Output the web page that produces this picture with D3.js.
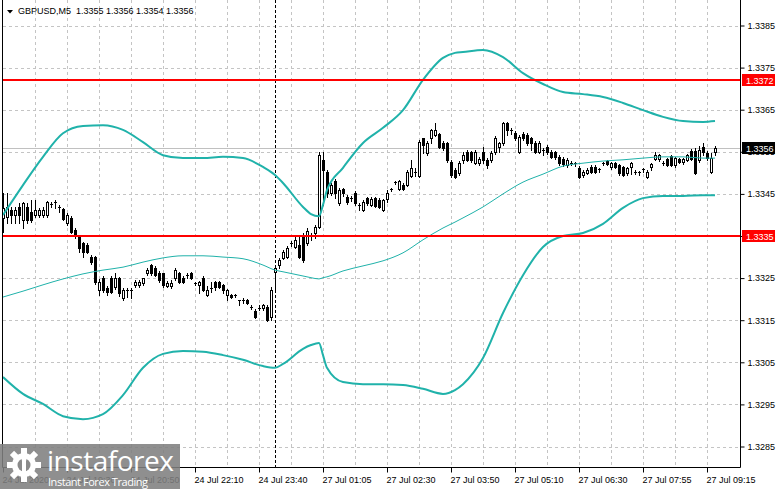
<!DOCTYPE html>
<html>
<head>
<meta charset="utf-8">
<script src="https://cdn.jsdelivr.net/npm/d3@7"></script>
<style>
html, body { margin: 0; padding: 0; background: #fff; overflow: hidden; }
svg { display: block; font-family: "Liberation Sans", Arial, sans-serif; }
</style>
</head>
<body>
<svg id="chart" width="781" height="489"></svg>
<script>
// GBPUSD M5 candles, one value per bar (bar 0 = leftmost)
const barOpen = [
  1.33393,1.33395,1.33412,1.33400,1.33419,1.33388,1.33419,1.33407,1.33400,1.33400,
  1.33400,1.33400,1.33426,1.33431,1.33419,1.33414,1.33381,1.33393,1.33364,1.33348,
  1.33334,1.33329,1.33300,1.33300,1.33222,1.33251,1.33227,1.33251,1.33229,1.33251,
  1.33203,1.33222,1.33222,1.33234,1.33234,1.33239,1.33262,1.33281,1.33274,1.33262,
  1.33262,1.33232,1.33232,1.33251,1.33262,1.33251,1.33258,1.33262,1.33239,1.33234,
  1.33251,1.33210,1.33227,1.33241,1.33241,1.33234,1.33210,1.33210,1.33210,1.33198,
  1.33198,1.33198,1.33181,1.33172,1.33179,1.33179,1.33181,1.33158,1.33265,1.33281,
  1.33298,1.33300,1.33334,1.33324,1.33329,1.33352,1.33334,1.33352,1.33357,1.33371,
  1.33531,1.33502,1.33452,1.33481,1.33428,1.33462,1.33443,1.33440,1.33452,1.33424,
  1.33412,1.33440,1.33424,1.33440,1.33436,1.33412,1.33438,1.33462,1.33478,1.33462,
  1.33471,1.33471,1.33493,1.33502,1.33493,1.33582,1.33547,1.33582,1.33589,1.33592,
  1.33571,1.33571,1.33526,1.33507,1.33500,1.33531,1.33550,1.33550,1.33523,1.33523,
  1.33550,1.33531,1.33531,1.33550,1.33561,1.33571,1.33618,1.33602,1.33594,1.33550,
  1.33592,1.33589,1.33582,1.33571,1.33550,1.33554,1.33561,1.33550,1.33550,1.33538,
  1.33533,1.33519,1.33523,1.33523,1.33512,1.33495,1.33500,1.33514,1.33514,1.33509,
  1.33523,1.33528,1.33514,1.33523,1.33519,1.33514,1.33500,1.33514,1.33502,1.33502,
  1.33509,1.33490,1.33514,1.33533,1.33533,1.33523,1.33533,1.33540,1.33519,1.33533,
  1.33526,1.33531,1.33552,1.33552,1.33531,1.33561,1.33547,1.33502,1.33550
];
const barHigh = [
  1.33452,1.33452,1.33419,1.33419,1.33428,1.33431,1.33428,1.33436,1.33436,1.33417,
  1.33419,1.33433,1.33431,1.33436,1.33424,1.33417,1.33405,1.33397,1.33369,1.33352,
  1.33336,1.33334,1.33305,1.33303,1.33248,1.33255,1.33232,1.33255,1.33262,1.33253,
  1.33227,1.33227,1.33227,1.33246,1.33246,1.33251,1.33274,1.33283,1.33279,1.33267,
  1.33262,1.33243,1.33246,1.33274,1.33265,1.33255,1.33262,1.33265,1.33241,1.33243,
  1.33255,1.33232,1.33241,1.33243,1.33243,1.33236,1.33224,1.33213,1.33213,1.33198,
  1.33203,1.33200,1.33186,1.33177,1.33186,1.33188,1.33186,1.33229,1.33281,1.33298,
  1.33317,1.33326,1.33338,1.33350,1.33350,1.33357,1.33369,1.33357,1.33376,1.33550,
  1.33550,1.33507,1.33476,1.33485,1.33464,1.33464,1.33447,1.33445,1.33457,1.33428,
  1.33436,1.33443,1.33443,1.33443,1.33440,1.33438,1.33459,1.33464,1.33481,1.33483,
  1.33476,1.33507,1.33531,1.33512,1.33578,1.33582,1.33575,1.33604,1.33618,1.33594,
  1.33575,1.33573,1.33531,1.33512,1.33528,1.33550,1.33554,1.33552,1.33554,1.33538,
  1.33561,1.33535,1.33552,1.33587,1.33573,1.33621,1.33621,1.33606,1.33599,1.33589,
  1.33597,1.33594,1.33585,1.33575,1.33575,1.33559,1.33566,1.33554,1.33552,1.33542,
  1.33538,1.33535,1.33528,1.33526,1.33516,1.33507,1.33512,1.33519,1.33519,1.33512,
  1.33526,1.33531,1.33526,1.33526,1.33521,1.33516,1.33514,1.33526,1.33507,1.33504,
  1.33512,1.33507,1.33523,1.33550,1.33545,1.33528,1.33535,1.33542,1.33538,1.33535,
  1.33535,1.33545,1.33557,1.33559,1.33563,1.33571,1.33552,1.33547,1.33563
];
const barLow = [
  1.33360,1.33381,1.33381,1.33381,1.33381,1.33369,1.33381,1.33383,1.33395,1.33395,
  1.33395,1.33395,1.33419,1.33417,1.33407,1.33388,1.33376,1.33357,1.33345,1.33312,
  1.33300,1.33310,1.33283,1.33236,1.33210,1.33217,1.33210,1.33215,1.33224,1.33208,
  1.33198,1.33205,1.33203,1.33229,1.33229,1.33234,1.33258,1.33258,1.33255,1.33241,
  1.33229,1.33229,1.33227,1.33246,1.33239,1.33239,1.33251,1.33248,1.33234,1.33215,
  1.33220,1.33208,1.33217,1.33222,1.33227,1.33215,1.33198,1.33203,1.33205,1.33186,
  1.33191,1.33188,1.33177,1.33155,1.33174,1.33174,1.33148,1.33151,1.33222,1.33274,
  1.33296,1.33298,1.33326,1.33322,1.33298,1.33288,1.33329,1.33341,1.33345,1.33369,
  1.33424,1.33443,1.33447,1.33440,1.33424,1.33445,1.33426,1.33433,1.33424,1.33412,
  1.33409,1.33424,1.33421,1.33419,1.33417,1.33409,1.33431,1.33457,1.33474,1.33459,
  1.33459,1.33469,1.33490,1.33493,1.33490,1.33547,1.33542,1.33571,1.33587,1.33559,
  1.33554,1.33526,1.33490,1.33488,1.33495,1.33523,1.33528,1.33526,1.33521,1.33519,
  1.33523,1.33512,1.33526,1.33545,1.33550,1.33566,1.33589,1.33592,1.33578,1.33547,
  1.33578,1.33566,1.33554,1.33547,1.33547,1.33542,1.33545,1.33535,1.33533,1.33519,
  1.33516,1.33514,1.33519,1.33516,1.33488,1.33490,1.33497,1.33500,1.33500,1.33502,
  1.33519,1.33519,1.33509,1.33512,1.33495,1.33493,1.33495,1.33497,1.33497,1.33495,
  1.33502,1.33488,1.33507,1.33531,1.33528,1.33519,1.33516,1.33516,1.33514,1.33523,
  1.33521,1.33528,1.33531,1.33497,1.33526,1.33542,1.33531,1.33500,1.33542
];
const barClose = [
  1.33417,1.33419,1.33400,1.33412,1.33400,1.33428,1.33388,1.33388,1.33412,1.33412,
  1.33412,1.33431,1.33426,1.33431,1.33419,1.33390,1.33400,1.33360,1.33352,1.33322,
  1.33312,1.33312,1.33288,1.33241,1.33241,1.33222,1.33217,1.33217,1.33251,1.33215,
  1.33222,1.33222,1.33222,1.33241,1.33241,1.33251,1.33269,1.33262,1.33258,1.33246,
  1.33234,1.33239,1.33239,1.33269,1.33241,1.33241,1.33258,1.33251,1.33239,1.33241,
  1.33222,1.33222,1.33227,1.33229,1.33229,1.33222,1.33222,1.33205,1.33210,1.33198,
  1.33198,1.33191,1.33181,1.33158,1.33179,1.33186,1.33151,1.33222,1.33274,1.33293,
  1.33312,1.33322,1.33334,1.33341,1.33300,1.33293,1.33362,1.33352,1.33371,1.33542,
  1.33507,1.33452,1.33471,1.33452,1.33459,1.33452,1.33431,1.33440,1.33428,1.33424,
  1.33431,1.33428,1.33438,1.33421,1.33419,1.33436,1.33452,1.33462,1.33478,1.33481,
  1.33462,1.33502,1.33512,1.33502,1.33573,1.33566,1.33571,1.33602,1.33602,1.33561,
  1.33559,1.33531,1.33495,1.33490,1.33523,1.33542,1.33531,1.33531,1.33550,1.33533,
  1.33531,1.33519,1.33547,1.33582,1.33571,1.33618,1.33602,1.33602,1.33582,1.33585,
  1.33582,1.33571,1.33571,1.33550,1.33571,1.33554,1.33550,1.33538,1.33538,1.33523,
  1.33521,1.33531,1.33523,1.33523,1.33490,1.33502,1.33507,1.33502,1.33502,1.33509,
  1.33523,1.33521,1.33523,1.33514,1.33500,1.33495,1.33512,1.33523,1.33502,1.33502,
  1.33509,1.33502,1.33521,1.33542,1.33542,1.33523,1.33519,1.33519,1.33535,1.33526,
  1.33533,1.33542,1.33533,1.33500,1.33554,1.33550,1.33535,1.33535,1.33560
];

// Bollinger bands, read at these bars
const bandBars = [0,5,10,15,20,25,30,35,40,45,50,55,60,65,68,70,75,77,79,80,81,85,90,95,100,
  105,110,113,115,120,125,130,135,140,145,150,155,160,165,170,175,178];
const bandUpper = [1.33400,1.33471,1.33538,1.33594,1.33611,1.33613,1.33602,1.33573,1.33542,1.33535,
  1.33535,1.33538,1.33535,1.33514,1.33495,1.33476,1.33419,1.33402,1.33397,1.33424,1.33459,1.33512,
  1.33571,1.33607,1.33649,1.33721,1.33773,1.33785,1.33787,1.33792,1.33775,1.33737,1.33711,1.33692,
  1.33687,1.33680,1.33666,1.33649,1.33633,1.33623,1.33621,1.33623];
const bandMiddle = [1.33205,1.33219,1.33234,1.33248,1.33260,1.33269,1.33276,1.33288,1.33298,1.33303,
  1.33303,1.33300,1.33296,1.33281,1.33269,1.33265,1.33255,1.33251,1.33248,1.33251,1.33253,1.33267,
  1.33279,1.33291,1.33310,1.33341,1.33369,1.33383,1.33393,1.33419,1.33450,1.33478,1.33497,1.33516,
  1.33523,1.33528,1.33531,1.33535,1.33538,1.33538,1.33535,1.33535];
const bandLower = [1.33015,1.32975,1.32951,1.32922,1.32915,1.32927,1.32972,1.33037,1.33070,1.33077,
  1.33075,1.33067,1.33056,1.33041,1.33037,1.33046,1.33082,1.33091,1.33096,1.33067,1.33037,1.33003,
  1.32998,1.32998,1.32996,1.32987,1.32975,1.32984,1.32998,1.33060,1.33167,1.33257,1.33324,1.33350,
  1.33357,1.33379,1.33417,1.33440,1.33445,1.33445,1.33447,1.33447];

const priceTicks = [1.3285,1.3295,1.3305,1.3315,1.3325,1.3335,1.3345,1.3355,1.3365,1.3375,1.3385];
const timeTickBars = [0,16,32,48,64,80,96,112,128,144,160,176];
const timeLabels = ["24 Jul 2020","24 Jul 19:30","24 Jul 20:50","24 Jul 22:10","24 Jul 23:40",
  "27 Jul 01:05","27 Jul 02:30","27 Jul 03:50","27 Jul 05:10","27 Jul 06:30","27 Jul 07:55","27 Jul 09:15"];
const levels = [1.3372, 1.3335];
const lastPrice = 1.3356;
const separatorBar = 68;
const title = "GBPUSD,M5  1.3355 1.3356 1.3354 1.3356";

const width = 781, height = 489;
const plotL = 3, plotR = 740, plotT = 0, plotB = 467;
const fmt = d3.format(".4f");

const svg = d3.select("#chart");

const x = d3.scaleLinear().domain([0, 178]).range([3, 715]);
const y = d3.scaleLinear().domain([1.3285, 1.3385]).range([446.5, 25.5]);

svg.append("rect").attr("width", width).attr("height", height).attr("fill", "#fff");

svg.append("defs").append("clipPath").attr("id", "plot")
  .append("rect").attr("x", plotL).attr("y", plotT).attr("width", plotR - plotL).attr("height", plotB - plotT);

// grid
const grid = svg.append("g").attr("stroke", "#c4c4c4").attr("stroke-dasharray", "3,3").attr("stroke-width", 1);
grid.selectAll("line.h").data(priceTicks).join("line").attr("class", "h")
  .attr("x1", plotL).attr("x2", plotR)
  .attr("y1", d => Math.round(y(d)) + 0.5).attr("y2", d => Math.round(y(d)) + 0.5);
grid.selectAll("line.v").data(d3.range(8, 179, 8)).join("line").attr("class", "v")
  .attr("x1", d => Math.round(x(d)) + 0.5).attr("x2", d => Math.round(x(d)) + 0.5)
  .attr("y1", plotT).attr("y2", plotB);

const plot = svg.append("g").attr("clip-path", "url(#plot)");

// current price line
plot.append("line").attr("x1", plotL).attr("x2", plotR)
  .attr("y1", Math.round(y(lastPrice)) + 0.5).attr("y2", Math.round(y(lastPrice)) + 0.5)
  .attr("stroke", "#c0c0c0");

// separator
plot.append("line")
  .attr("x1", Math.round(x(separatorBar)) + 0.5).attr("x2", Math.round(x(separatorBar)) + 0.5)
  .attr("y1", plotT).attr("y2", plotB)
  .attr("stroke", "#000").attr("stroke-dasharray", "3,2");

// candles
const candles = barOpen.map((o, i) => ({ i, o, h: barHigh[i], l: barLow[i], c: barClose[i] }));
const cg = plot.append("g").selectAll("g").data(candles).join("g");
cg.append("rect")
  .attr("x", d => Math.round(x(d.i)))
  .attr("y", d => Math.round(y(d.h)))
  .attr("width", 1)
  .attr("height", d => Math.round(y(d.l)) - Math.round(y(d.h)) + 1)
  .attr("fill", "#000");
cg.append("rect")
  .attr("x", d => Math.round(x(d.i)) - 1)
  .attr("y", d => Math.round(y(Math.max(d.o, d.c))))
  .attr("width", 3)
  .attr("height", d => Math.round(y(Math.min(d.o, d.c))) - Math.round(y(Math.max(d.o, d.c))) + 1)
  .attr("fill", "#000");
cg.filter(d => d.c > d.o && Math.round(y(d.o)) - Math.round(y(d.c)) > 1)
  .append("rect")
  .attr("x", d => Math.round(x(d.i)))
  .attr("y", d => Math.round(y(d.c)) + 1)
  .attr("width", 1)
  .attr("height", d => Math.round(y(d.o)) - Math.round(y(d.c)) - 1)
  .attr("fill", "#fff");

// bollinger bands
const band = vals => d3.line()
  .x((d, k) => x(bandBars[k]))
  .y(d => y(d))
  .curve(d3.curveMonotoneX)(vals);
plot.append("path").attr("d", band(bandUpper)).attr("fill", "none").attr("stroke", "#20b2aa").attr("stroke-width", 2);
plot.append("path").attr("d", band(bandMiddle)).attr("fill", "none").attr("stroke", "#20b2aa").attr("stroke-width", 1);
plot.append("path").attr("d", band(bandLower)).attr("fill", "none").attr("stroke", "#20b2aa").attr("stroke-width", 2);

// horizontal levels
plot.selectAll("line.level").data(levels).join("line").attr("class", "level")
  .attr("x1", plotL).attr("x2", plotR)
  .attr("y1", d => Math.round(y(d))).attr("y2", d => Math.round(y(d)))
  .attr("stroke", "#ff0000").attr("stroke-width", 2);

// frame
svg.append("path")
  .attr("d", `M${plotL - 0.5},${plotT}V${plotB + 0.5}H${plotR + 0.5}V${plotT}`)
  .attr("fill", "none").attr("stroke", "#000");

// price axis
const yAxis = svg.append("g").attr("transform", `translate(${plotR + 0.5},0)`)
  .call(d3.axisRight(y).tickValues(priceTicks).tickFormat(fmt).tickSize(4).tickPadding(3))
  .call(g => g.select(".domain").remove());
yAxis.attr("font-family", null).attr("font-size", 9);
yAxis.selectAll("text").attr("fill", "#000");

// time axis
const xAxis = svg.append("g").attr("transform", `translate(0,${plotB + 0.5})`)
  .call(d3.axisBottom(x).tickValues(timeTickBars).tickFormat((d, k) => timeLabels[k]).tickSize(5).tickPadding(4))
  .call(g => g.select(".domain").remove());
xAxis.attr("font-family", null).attr("font-size", 9);
xAxis.selectAll("text").attr("text-anchor", "start").attr("x", -1).attr("fill", "#000");

// level and price labels on the axis
const tags = levels.map(v => ({ v, fill: "#ff0000" })).concat([{ v: lastPrice, fill: "#000" }]);
const tg = svg.append("g").selectAll("g").data(tags).join("g")
  .attr("transform", d => `translate(${plotR + 2},${Math.round(y(d.v))})`);
tg.append("rect").attr("x", 0).attr("y", -6).attr("width", 33).attr("height", 12).attr("fill", d => d.fill);
tg.append("text").attr("x", 4).attr("y", 3.5).attr("font-size", 9).attr("fill", "#fff").text(d => fmt(d.v));

// title
svg.append("path").attr("d", "M7,10L13,10L10,13.5Z").attr("fill", "#000");
svg.append("text").attr("x", 18).attr("y", 14).attr("font-size", 9).attr("fill", "#000")
  .style("white-space", "pre").text(title);

// watermark
const logo = svg.append("g");
logo.append("rect").attr("x", 0).attr("y", 444).attr("width", 180).attr("height", 45)
  .attr("fill", "#808080").attr("opacity", 0.88);
const gear = logo.append("g").attr("transform", "translate(24,465)");
gear.selectAll("rect").data(d3.range(8)).join("rect")
  .attr("x", -3).attr("y", -17).attr("width", 6).attr("height", 8)
  .attr("fill", "#fff").attr("transform", d => `rotate(${d * 45})`);
gear.append("circle").attr("r", 12).attr("fill", "#fff");
gear.append("circle").attr("r", 6.5).attr("fill", "#8a8a8a");
gear.append("rect").attr("x", -2).attr("y", -4).attr("width", 4).attr("height", 16).attr("fill", "#fff");
gear.append("circle").attr("cy", -6).attr("r", 2.5).attr("fill", "#fff");
logo.append("text").attr("x", 47).attr("y", 471).attr("font-family", "'Open Sans', sans-serif")
  .attr("font-size", 28).attr("fill", "#fff").attr("textLength", 127).text("instaforex");
logo.append("text").attr("x", 48).attr("y", 486).attr("font-family", "'Open Sans', sans-serif")
  .attr("font-size", 11).attr("fill", "#fff").attr("textLength", 100).text("Instant Forex Trading");
</script>
</body>
</html>
